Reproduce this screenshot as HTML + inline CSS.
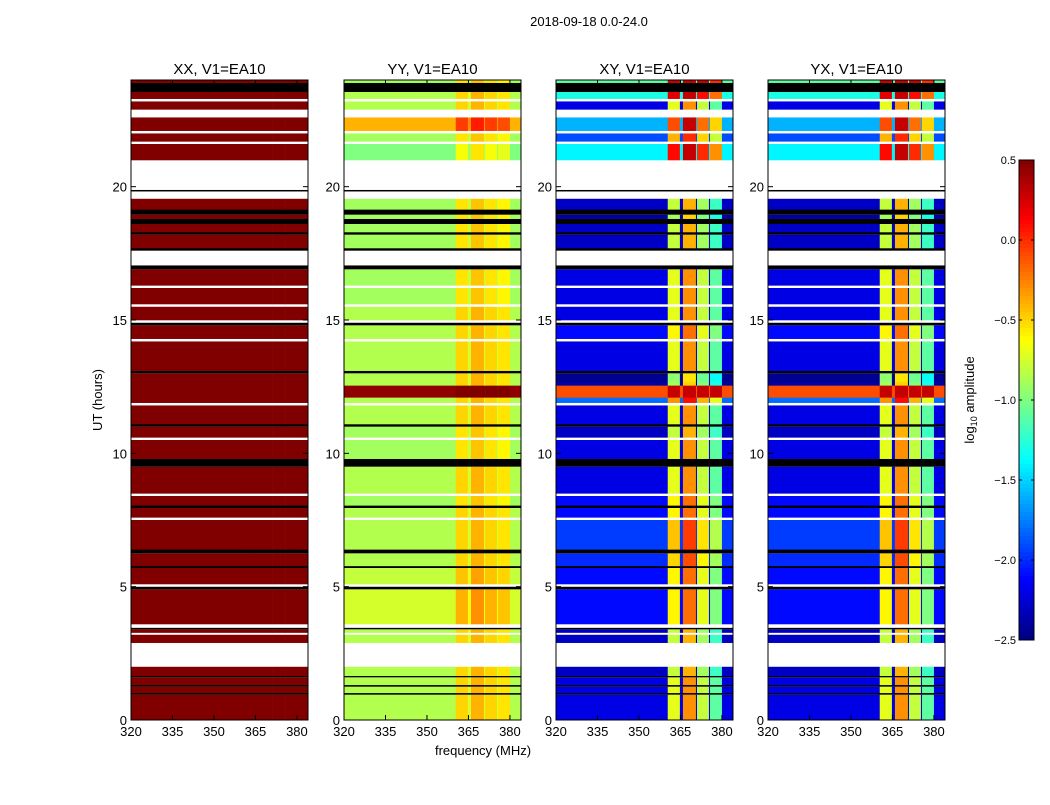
<!DOCTYPE html>
<html><head><meta charset="utf-8">
<style>
body{margin:0;background:#fff;}
svg text{font-family:"Liberation Sans",sans-serif;fill:#000;}
</style></head>
<body>
<svg id="chart" width="1050" height="800" viewBox="0 0 1050 800" xmlns="http://www.w3.org/2000/svg">
<text x="589" y="26" font-size="13" text-anchor="middle">2018-09-18 0.0-24.0</text>
<g id="panels"></g>
<text transform="translate(102,400) rotate(-90)" font-size="13" text-anchor="middle">UT (hours)</text>
<text x="483" y="755" font-size="13" text-anchor="middle">frequency (MHz)</text>
<g id="cbar"></g>
<text transform="translate(974,400) rotate(-90)" font-size="13" text-anchor="middle">log<tspan font-size="9" dy="3">10</tspan><tspan dy="-3"> amplitude</tspan></text>
</svg>
<script>
const NS="http://www.w3.org/2000/svg";
const panelTitles=["XX, V1=EA10","YY, V1=EA10","XY, V1=EA10","YX, V1=EA10"];
const xTicks=[320,335,350,365,380];
const yTicks=[0,5,10,15,20];
const cbTicks=[0.5,0.0,-0.5,-1.0,-1.5,-2.0,-2.5];
const cbTickLabels=["0.5","0.0","\u22120.5","\u22121.0","\u22121.5","\u22122.0","\u22122.5"];
const freqEdges=[320,360.4,364.8,365.9,370.6,371,375.3,375.7,380,384];
const freqType=["b","h0","g","h1","g","h2","g","h3","b"];
const xyChanBoost=[1.5,1.9,1.4,1.1];
const yyChanBoost=[0.35,0.45,0.35,0.3];
const bandStart=[0,0.95,1.02,1.25,1.32,1.6,1.66,2.0,2.9,3.2,3.28,3.4,3.46,3.6,4.9,5.0,5.1,5.7,5.78,6.25,6.4,7.5,7.6,7.95,8.05,8.4,8.5,9.5,9.8,10.5,10.6,11.0,11.1,11.8,11.9,12.1,12.55,12.7,13.0,13.1,14.2,14.3,14.8,14.9,15.0,15.5,15.6,16.2,16.3,16.9,17.05,17.6,17.7,18.2,18.3,18.6,18.8,18.95,19.15,19.55,19.82,19.88,21.0,21.6,21.7,22.0,22.1,22.6,22.9,23.2,23.3,23.55,23.9];
const bandEnd=[0.95,1.02,1.25,1.32,1.6,1.66,2.0,2.9,3.2,3.28,3.4,3.46,3.6,4.9,5.0,5.1,5.7,5.78,6.25,6.4,7.5,7.6,7.95,8.05,8.4,8.5,9.5,9.8,10.5,10.6,11.0,11.1,11.8,11.9,12.1,12.55,12.7,13.0,13.1,14.2,14.3,14.8,14.9,15.0,15.5,15.6,16.2,16.3,16.9,17.05,17.6,17.7,18.2,18.3,18.6,18.8,18.95,19.15,19.55,19.82,19.88,21.0,21.6,21.7,22.0,22.1,22.6,22.9,23.2,23.3,23.55,23.9,24];
const bandKind=["d","k","d","k","d","k","d","w","d","w","d","k","w","d","k","w","d","k","d","k","d","w","d","k","d","w","d","k","d","w","d","k","d","w","d","d","d","d","k","d","w","d","k","w","d","w","d","w","d","k","w","k","d","k","d","k","d","k","d","w","k","w","d","w","d","w","d","w","d","w","d","k","d"];
const yyLevel=[-0.85,0,-0.85,0,-0.85,0,-0.85,0,-0.85,0,-0.85,0,0,-0.75,0,0,-0.8,0,-0.85,0,-0.85,0,-0.85,0,-0.9,0,-0.85,0,-0.9,0,-0.9,0,-0.85,0,-0.85,0.45,-0.85,-0.85,0,-0.85,0,-0.85,0,0,-0.85,0,-0.9,0,-0.9,0,0,0,-0.9,0,-0.9,0,-0.9,0,-0.9,0,0,0,-1.0,0,-0.9,0,-0.4,0,-0.85,0,-0.85,0,-0.9];
const xyLevel=[-2.2,0,-2.2,0,-2.2,0,-2.3,0,-2.3,0,-2.3,0,0,-2.1,0,0,-2.1,0,-2.0,0,-1.95,0,-2.1,0,-2.1,0,-2.2,0,-2.2,0,-2.3,0,-2.2,0,-1.8,-0.1,-2.4,-2.45,0,-2.2,0,-2.1,0,0,-2.2,0,-2.2,0,-2.2,0,0,0,-2.3,0,-2.3,0,-2.4,0,-2.3,0,0,0,-1.4,0,-1.9,0,-1.6,0,-2.2,0,-1.3,0,-1.1];
const panelX=[131,344,556,768], panelW=177, pTop=80, pBot=720;
function fx(f,p){return panelX[p]+(f-320)/(384-320)*panelW;}
function fy(t){return pBot-(t/24)*(pBot-pTop);}
function jet(v){let x=(v+2.5)/3;x=Math.max(0,Math.min(1,x));
 const r=Math.max(0,Math.min(1,Math.min(4*x-1.5,-4*x+4.5)));
 const g=Math.max(0,Math.min(1,Math.min(4*x-0.5,-4*x+3.5)));
 const b=Math.max(0,Math.min(1,Math.min(4*x+0.5,-4*x+2.5)));
 return `rgb(${Math.round(r*255)},${Math.round(g*255)},${Math.round(b*255)})`;}
function val(p,i,ft){
 if(p===0)return 0.5;
 const isH=ft[0]==="h", ci=isH?+ft[1]:0;
 if(p===1){const b=yyLevel[i];return isH?b+yyChanBoost[ci]:ft==="g"?b+0.1:b;}
 const b=xyLevel[i];return isH?Math.min(0.3,b+xyChanBoost[ci]):b;}
const G=document.getElementById("panels");
function mk(tag,attrs,parent){const e=document.createElementNS(NS,tag);for(const k in attrs)e.setAttribute(k,attrs[k]);parent.appendChild(e);return e;}
for(let p=0;p<4;p++){
 const g=mk("g",{},G);
 
 
 for(let i=0;i<bandStart.length;i++){
  const y0=fy(bandEnd[i]),h=fy(bandStart[i])-y0;
  if(bandKind[i]!=="d"){
   const r=mk("rect",{x:panelX[p],y:y0,width:panelW,height:h,fill:bandKind[i]==="w"?"#fff":"#000"},g);
   
   
   continue;}
  for(let j=0;j<freqType.length;j++){
   const x0=fx(freqEdges[j],p),x1=fx(freqEdges[j+1],p);
   const r=mk("rect",{x:x0,y:y0,width:x1-x0+0.3,height:h+0.3,fill:jet(val(p,i,freqType[j]))},g);
   
   
  }
 }
 const fr=mk("rect",{x:panelX[p],y:pTop,width:panelW,height:pBot-pTop,fill:"none",stroke:"#000","stroke-width":1},g);
 
 
 const tt=mk("text",{x:panelX[p]+panelW/2,y:74,"font-size":15,"text-anchor":"middle"},g);
 tt.textContent=panelTitles[p];
 
 
 xTicks.forEach(v=>{const x=fx(v,p);
  mk("line",{x1:x,x2:x,y1:pBot,y2:pBot-5,stroke:"#000"},g);
  mk("line",{x1:x,x2:x,y1:pTop,y2:pTop+5,stroke:"#000"},g);
  const t=mk("text",{x:x,y:pBot+16,"font-size":13,"text-anchor":"middle"},g);t.textContent=v;
  
  });
 yTicks.forEach(v=>{const y=fy(v);
  mk("line",{x1:panelX[p],x2:panelX[p]+5,y1:y,y2:y,stroke:"#000"},g);
  mk("line",{x1:panelX[p]+panelW,x2:panelX[p]+panelW-5,y1:y,y2:y,stroke:"#000"},g);
  const t=mk("text",{x:panelX[p]-4,y:y+5,"font-size":13,"text-anchor":"end"},g);t.textContent=v;
  
  });
}
const C=document.getElementById("cbar");
const cbTop=160,cbBot=640,cbX=1019,cbW=15;
for(let k=0;k<120;k++){const v=0.5-3*(k+0.5)/120;
 mk("rect",{x:cbX,y:cbTop+k*4,width:cbW,height:4.3,fill:jet(v)},C);}
mk("rect",{x:cbX,y:cbTop,width:cbW,height:cbBot-cbTop,fill:"none",stroke:"#000"},C);
cbTicks.forEach((v,i)=>{const y=cbTop+(0.5-v)/3*(cbBot-cbTop);
 mk("line",{x1:cbX,x2:cbX+3,y1:y,y2:y,stroke:"#000"},C);
 mk("line",{x1:cbX+cbW-3,x2:cbX+cbW,y1:y,y2:y,stroke:"#000"},C);
 const t=mk("text",{x:cbX-3,y:y+4,"font-size":11,"text-anchor":"end"},C);t.textContent=cbTickLabels[i];
 
 });
</script>
</body></html>
